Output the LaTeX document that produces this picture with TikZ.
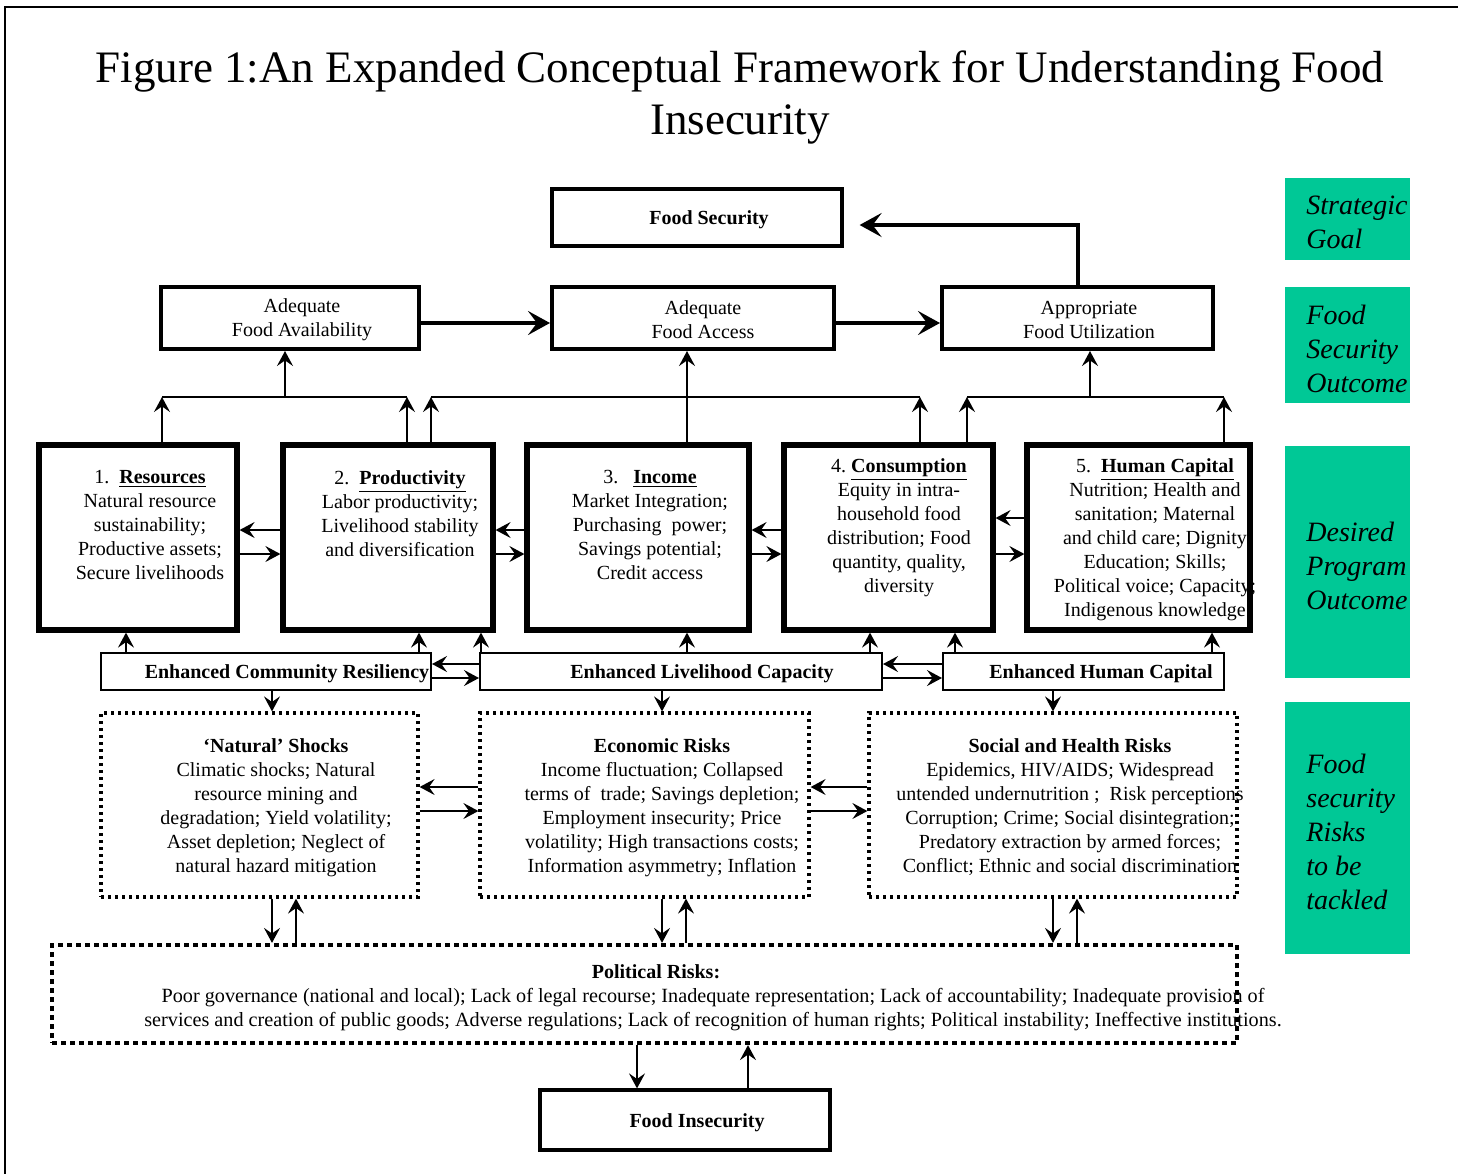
\documentclass[tikz,border=0pt]{standalone}
\usepackage{fontspec}
\setmainfont{Liberation Serif}
\usetikzlibrary{arrows.meta}
\definecolor{goalteal}{RGB}{0,200,150}
\begin{document}
\begin{tikzpicture}[x=0.5pt,y=-0.5pt,
  txt/.style={font=\fontsize{10}{12}\selectfont, align=center, inner sep=0pt},
  btxt/.style={font=\fontsize{10}{12}\selectfont\bfseries, align=center, inner sep=0pt},
  fsbox/.style={draw, line width=1.6pt, inner sep=0pt},
  outbox/.style={draw, line width=2pt, inner sep=0pt},
  progbox/.style={draw, line width=2.6pt, inner sep=0pt},
  enhbox/.style={draw, line width=1pt, inner sep=0pt},
  riskbox/.style={draw, line width=1.6pt, dash pattern=on 1.5pt off 2pt, inner sep=0pt},
  polbox/.style={draw, line width=2.1pt, dash pattern=on 2.5pt off 2pt, inner sep=0pt},
  goalbox/.style={fill=goalteal, draw=none, inner sep=0pt},
  goaltxt/.style={font=\fontsize{14}{17}\selectfont\itshape, align=left, inner sep=0pt, anchor=west},
  arr/.style={line width=0.9pt, -{Stealth[length=7.5pt,width=8pt,inset=2.8pt]}},
  bus/.style={line width=0.8pt},
  bigarr/.style={line width=2pt, -{Stealth[length=11pt,width=12pt,inset=4.5pt]}}
]
\useasboundingbox (0,0) rectangle (1458,1174);
% frame
\draw[line width=1pt] (1458,7) -- (5,7) -- (5,1174);

% title
\node[align=center, inner sep=0pt, font=\fontsize{22.5}{26}\selectfont] (title) at (740,98)
  {Figure 1:An Expanded Conceptual Framework for Understanding Food\\Insecurity};

% x and y helper coordinates
\foreach \v in {126,162,272,285,296,407,419,431,481,637,662,686,687,748,870,920,955,967,1053,1077,1090,1212,1224}
  {\coordinate (X\v) at (\v,0);}
\foreach \v in {225,323,397,518,530,554,664,678,787,811}
  {\coordinate (Y\v) at (0,\v);}

% top boxes
\node[fsbox, minimum width=145pt, minimum height=28.5pt] (fs) at (697,217.5) {};
\node[btxt] (fst) at (709,220) {Food Security};
\node[outbox, minimum width=129pt, minimum height=31pt] (fa) at (290,318) {};
\node[txt] (fat) at (302,320) {Adequate\\Food Availability};
\node[outbox, minimum width=141pt, minimum height=31pt] (fac) at (693,318) {};
\node[txt] (fact) at (703,320) {Adequate\\Food Access};
\node[outbox, minimum width=135.5pt, minimum height=31pt] (fu) at (1077.5,318) {};
\node[txt] (fut) at (1089,320) {Appropriate\\Food Utilization};

% goal column
\node[goalbox, minimum width=62.5pt, minimum height=41pt] (sg) at (1347.5,219) {};
\node[goalbox, minimum width=62.5pt, minimum height=58pt] (fso) at (1347.5,345) {};
\node[goalbox, minimum width=62.5pt, minimum height=116pt] (dpo) at (1347.5,562) {};
\node[goalbox, minimum width=62.5pt, minimum height=126pt] (frt) at (1347.5,828) {};
\begin{scope}
  \clip (sg.south west) rectangle (sg.north east);
  \node[goaltxt] (sgt) at (1306,222) {Strategic\\Goal};
\end{scope}
\begin{scope}
  \clip (fso.south west) rectangle (fso.north east);
  \node[goaltxt] (fsot) at (1306,349) {Food\\Security\\Outcome};
\end{scope}
\begin{scope}
  \clip (dpo.south west) rectangle (dpo.north east);
  \node[goaltxt] (dpot) at (1306,566) {Desired\\Program\\Outcome};
\end{scope}
\begin{scope}
  \clip (frt.south west) rectangle (frt.north east);
  \node[goaltxt] (frtt) at (1306,832) {Food\\security\\Risks\\to be\\tackled};
\end{scope}

% program boxes
\node[progbox, minimum width=99pt, minimum height=92.5pt] (res) at (138,537.5) {};
\node[progbox, minimum width=105pt, minimum height=92.5pt] (prod) at (388,537.5) {};
\node[progbox, minimum width=111pt, minimum height=92.5pt] (inc) at (638,537.5) {};
\node[progbox, minimum width=104.5pt, minimum height=92.5pt] (cons) at (888.5,537.5) {};
\node[progbox, minimum width=111.5pt, minimum height=92.5pt] (hc) at (1138.5,537.5) {};
\node[txt, anchor=north] (rest) at (150,470) {1.\ \ \textbf{\underline{Resources}}\\Natural resource\\sustainability;\\Productive assets;\\Secure livelihoods};
\node[txt, anchor=north] (prodt) at (400,470) {2.\ \ \textbf{\underline{Productivity}}\\Labor productivity;\\Livelihood stability\\and diversification};
\node[txt, anchor=north] (inct) at (650,470) {3.\ \ \ \textbf{\underline{Income}}\\Market Integration;\\Purchasing\ \ power;\\Savings potential;\\Credit access};
\node[txt, anchor=north] (const) at (899,458) {4.\ \textbf{\underline{Consumption}}\\Equity in intra-\\household food\\distribution; Food\\quantity, quality,\\diversity};
\node[txt, anchor=north] (hct) at (1155,458) {5.\ \ \textbf{\underline{Human Capital}}\\Nutrition; Health and\\sanitation; Maternal\\and child care; Dignity\\Education; Skills;\\Political voice; Capacity;\\Indigenous knowledge};

% enhanced boxes
\node[enhbox, minimum width=165pt, minimum height=18.5pt] (ecr) at (266,671.5) {};
\node[btxt] (ecrt) at (287,674) {Enhanced Community Resiliency};
\node[enhbox, minimum width=201pt, minimum height=18.5pt] (elc) at (681,671.5) {};
\node[btxt] (elct) at (702,674) {Enhanced Livelihood Capacity};
\node[enhbox, minimum width=140.5pt, minimum height=18.5pt] (ehc) at (1083.5,671.5) {};
\node[btxt] (ehct) at (1101,674) {Enhanced Human Capital};

% risk boxes
\node[riskbox, minimum width=158.5pt, minimum height=92pt] (ns) at (259.5,805) {};
\node[riskbox, minimum width=164.5pt, minimum height=92pt] (er) at (644.5,805) {};
\node[riskbox, minimum width=184pt, minimum height=92pt] (shr) at (1053,805) {};
\node[txt, anchor=north] (nst) at (276,738) {\textbf{‘Natural’ Shocks}\\Climatic shocks; Natural\\resource mining and\\degradation; Yield volatility;\\Asset depletion; Neglect of\\natural hazard mitigation};
\node[txt, anchor=north] (ert) at (662,738) {\textbf{Economic Risks}\\Income fluctuation; Collapsed\\terms of\ \ trade; Savings depletion;\\Employment insecurity; Price\\volatility; High transactions costs;\\Information asymmetry; Inflation};
\node[txt, anchor=north] (shrt) at (1070,738) {\textbf{Social and Health Risks}\\Epidemics, HIV/AIDS; Widespread\\untended undernutrition ;\ \ Risk perceptions\\Corruption; Crime; Social disintegration;\\Predatory extraction by armed forces;\\Conflict; Ethnic and social discrimination};

% political
\node[polbox, minimum width=592.5pt, minimum height=49pt] (pr) at (644.5,994) {};
\node[btxt] (prt) at (656,972) {Political Risks:};
\node[txt, font=\fontsize{10.1}{12}\selectfont] (prl) at (713,1010) {Poor governance (national and local); Lack of legal recourse; Inadequate representation; Lack of accountability; Inadequate provision of\\services and creation of public goods; Adverse regulations; Lack of recognition of human rights; Political instability; Ineffective institutions.};

% food insecurity
\node[fsbox, minimum width=145pt, minimum height=30pt] (fi) at (685,1120) {};
\node[btxt] (fit) at (697,1123) {Food Insecurity};

% ---- connectors ----
% outcome chain
\draw[bigarr] (fa.east |- Y323) -- (fac.west |- Y323);
\draw[bigarr] (fac.east |- Y323) -- (fu.west |- Y323);
\draw[bigarr, shorten >=8pt] (fu.north) |- (fs.east |- Y225);

% buses to outcomes
\draw[arr] (res.north -| X162) -- (Y397 -| X162);
\draw[arr] (prod.north -| X407) -- (Y397 -| X407);
\draw[bus] (Y397 -| X162) -- (Y397 -| X407);
\draw[arr] (Y397 -| X285) -- (fa.south -| X285);

\draw[arr] (prod.north -| X431) -- (Y397 -| X431);
\draw[arr] (cons.north -| X920) -- (Y397 -| X920);
\draw[bus] (Y397 -| X431) -- (Y397 -| X920);
\draw[arr] (inc.north -| X687) -- (fac.south -| X687);

\draw[arr] (cons.north -| X967) -- (Y397 -| X967);
\draw[arr] (hc.north -| X1224) -- (Y397 -| X1224);
\draw[bus] (Y397 -| X967) -- (Y397 -| X1224);
\draw[arr] (Y397 -| X1090) -- (fu.south -| X1090);

% program box links
\draw[arr] (prod.west |- Y530) -- (res.east |- Y530);
\draw[arr] (res.east |- Y554) -- (prod.west |- Y554);
\draw[arr] (inc.west |- Y530) -- (prod.east |- Y530);
\draw[arr] (prod.east |- Y554) -- (inc.west |- Y554);
\draw[arr] (cons.west |- Y530) -- (inc.east |- Y530);
\draw[arr] (inc.east |- Y554) -- (cons.west |- Y554);
\draw[arr] (hc.west |- Y518) -- (cons.east |- Y518);
\draw[arr] (cons.east |- Y554) -- (hc.west |- Y554);

% enhanced to program
\draw[arr] (ecr.north -| X126) -- (res.south -| X126);
\draw[arr] (ecr.north -| X419) -- (prod.south -| X419);
\draw[arr] (elc.north -| X481) -- (prod.south -| X481);
\draw[arr] (elc.north -| X687) -- (inc.south -| X687);
\draw[arr] (elc.north -| X870) -- (cons.south -| X870);
\draw[arr] (ehc.north -| X955) -- (cons.south -| X955);
\draw[arr] (ehc.north -| X1212) -- (hc.south -| X1212);

% enhanced links
\draw[arr] (elc.west |- Y664) -- (ecr.east |- Y664);
\draw[arr] (ecr.east |- Y678) -- (elc.west |- Y678);
\draw[arr] (ehc.west |- Y664) -- (elc.east |- Y664);
\draw[arr] (elc.east |- Y678) -- (ehc.west |- Y678);

% enhanced to risks
\draw[arr] (ecr.south -| X272) -- (ns.north -| X272);
\draw[arr] (elc.south -| X662) -- (er.north -| X662);
\draw[arr] (ehc.south -| X1053) -- (shr.north -| X1053);

% risk links
\draw[arr] (er.west |- Y787) -- (ns.east |- Y787);
\draw[arr] (ns.east |- Y811) -- (er.west |- Y811);
\draw[arr] (shr.west |- Y787) -- (er.east |- Y787);
\draw[arr] (er.east |- Y811) -- (shr.west |- Y811);

% risks <-> political
\draw[arr] (ns.south -| X272) -- (pr.north -| X272);
\draw[arr] (pr.north -| X296) -- (ns.south -| X296);
\draw[arr] (er.south -| X662) -- (pr.north -| X662);
\draw[arr] (pr.north -| X686) -- (er.south -| X686);
\draw[arr] (shr.south -| X1053) -- (pr.north -| X1053);
\draw[arr] (pr.north -| X1077) -- (shr.south -| X1077);

% political <-> food insecurity
\draw[arr] (pr.south -| X637) -- (fi.north -| X637);
\draw[arr] (fi.north -| X748) -- (pr.south -| X748);
\end{tikzpicture}
\end{document}
